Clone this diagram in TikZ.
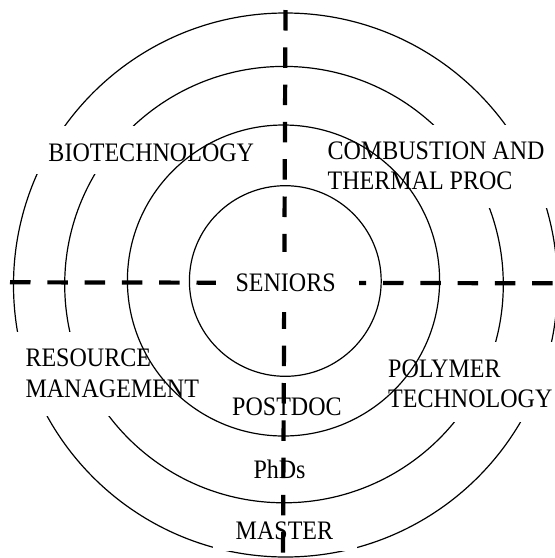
\documentclass[tikz,border=0pt]{standalone}
\usepackage{fontspec}
\setmainfont{Liberation Serif}[FakeStretch=0.9]
\begin{document}
\begin{tikzpicture}[x=1pt,y=-1pt,
  ring/.style={draw=black,line width=1.2pt},
  axis/.style={draw=black,line width=4.2pt,dash pattern=on 20.5pt off 16.8pt},
  mask/.style={fill=white,draw=none},
  label/.style={inner sep=0pt,anchor=base west,align=left,
    font=\fontsize{26.7}{30.5}\selectfont}]
  \useasboundingbox (0,0) rectangle (555,558);
  \fill[white] (0,0) rectangle (555,558);

  % outer rings (MASTER and PhDs)
  \draw[ring] (285.5,285) ellipse [x radius=272pt, y radius=272pt];
  \draw[ring] (284,284.6) ellipse [x radius=219.3pt, y radius=218.2pt];

  % blank areas behind the field labels
  \fill[mask] (0,126) rectangle (262,174);
  \fill[mask] (320,125) rectangle (555,208);
  \fill[mask] (0,332) rectangle (205,416);
  \fill[mask] (380,342) rectangle (555,422);
  \fill[mask] (213,512) rectangle (357,551);

  % inner rings (POSTDOC and SENIORS)
  \draw[ring] (283.5,280.5) ellipse [x radius=156.1pt, y radius=155.5pt];
  \draw[ring] (285.3,281) ellipse [x radius=95.9pt, y radius=95.3pt];

  % dashed axes
  \coordinate (top) at (285.5,10);
  \coordinate (bottom) at (283,560);
  \coordinate (left) at (10,282.3);
  \coordinate (right) at (557,283.3);
  \draw[axis] (top) -- (bottom);
  \draw[axis] (left) -- (right);

  % blank area behind the centre label
  \fill[mask] (216,252) rectangle (359,311.5);

  % labels (two-line labels are placed by the baseline of their last line)
  \node[label] (seniors) at (235.4,291) {SENIORS};
  \node[label] (postdoc) at (232,415) {POSTDOC};
  \node[label] (phds) at (253.3,478.5) {PhDs};
  \node[label] (master) at (235.5,539) {MASTER};
  \node[label] (bio) at (48.3,161) {BIOTECHNOLOGY};
  \node[label] (comb) at (327.4,189.8) {COMBUSTION AND\\THERMAL PROC};
  \node[label] (res) at (25.3,397.1) {RESOURCE\\MANAGEMENT};
  \node[label] (poly) at (388,407.5) {POLYMER\\TECHNOLOGY};
\end{tikzpicture}
\end{document}
